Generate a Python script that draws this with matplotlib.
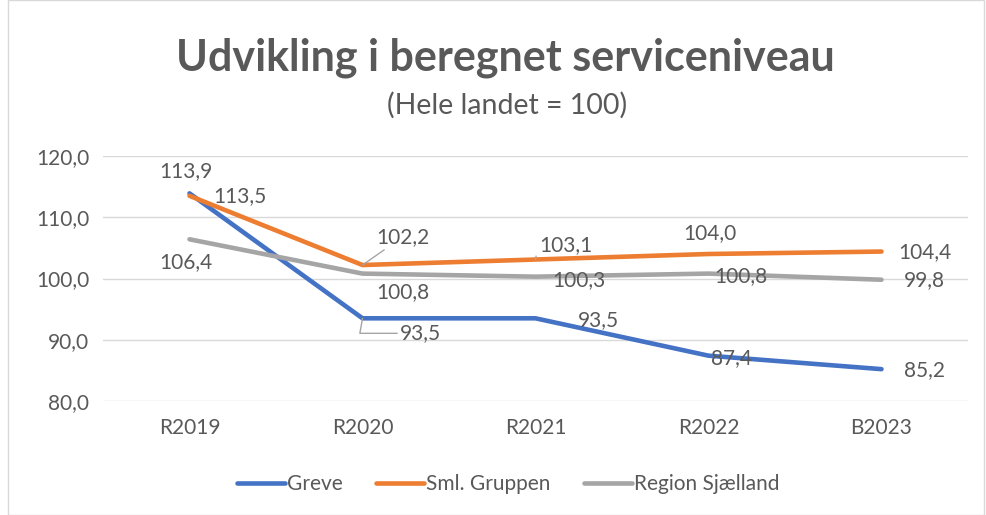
import matplotlib.pyplot as plt
from matplotlib.patches import Rectangle

plt.rcParams['font.family'] = ['Lato', 'DejaVu Sans']

### DATA ###
years = ['R2019', 'R2020', 'R2021', 'R2022', 'B2023']
greve = [113.9, 93.5, 93.5, 87.4, 85.2]
sml = [113.5, 102.2, 103.1, 104.0, 104.4]
region = [106.4, 100.8, 100.3, 100.8, 99.8]
yticks = [80, 90, 100, 110, 120]

### STYLE ###
txt = '#595959'
colors = ['#4472C4', '#ED7D31', '#A5A5A5']
names = ['Greve', 'Sml. Gruppen', 'Region Sjælland']
# label offsets in pixels (dx, dy) and leader line style (None = no line)
angled = 'angle,angleA=0,angleB=80'
offsets = [
    [(-4, 22, None), (58, -15, angled), (63, -2, None), (23, -2, None), (43, -1, None)],
    [(50, 0, None), (40, 28, 'arc3'), (30, 14, angled), (1, 21, None), (43, -1, None)],
    [(-4, -23, None), (40, -18, None), (43, -3, None), (32, -2, None), (43, 0, None)],
]

fig = plt.figure(figsize=(9.86, 5.15), dpi=100)
ax = fig.add_axes([103 / 986, 1 - 401 / 515, 865 / 986, 245 / 515])

x = range(len(years))
series = [greve, sml, region]
for s, c, n in zip(series, colors, names):
    ax.plot(x, s, color=c, lw=3.3, label=n, solid_capstyle='round', zorder=3)

for s, offs in zip(series, offsets):
    for i, (v, (dx, dy, lead)) in enumerate(zip(s, offs)):
        lab = f'{v:.1f}'.replace('.', ',')
        kw = {}
        if lead:
            kw['arrowprops'] = dict(arrowstyle='-', color='#A5A5A5', lw=1,
                                    shrinkA=0, shrinkB=0, connectionstyle=lead)
        ax.annotate(lab, (i, v), xytext=(dx, dy), textcoords='offset pixels',
                    ha='center', va='center', fontsize=15, color=txt, zorder=4, **kw)

ax.set_xlim(-0.5, len(years) - 0.5)
ax.set_ylim(80, 120)
ax.set_yticks(yticks)
ax.set_yticklabels([f'{t:.1f}'.replace('.', ',') for t in yticks])
ax.set_xticks(list(x))
ax.set_xticklabels(years)
ax.grid(axis='y', color='#D9D9D9', lw=1)
ax.set_axisbelow(True)
for sp in ax.spines.values():
    sp.set_visible(False)
ax.tick_params(length=0, labelsize=15, colors=txt)
ax.tick_params(axis='x', pad=12)
ax.tick_params(axis='y', pad=10)

fig.text(505 / 986, 1 - 58 / 515, 'Udvikling i beregnet serviceniveau', ha='center', va='center',
         fontsize=31, fontweight='bold', color=txt)
fig.text(507 / 986, 1 - 105 / 515, '(Hele landet = 100)', ha='center', va='center',
         fontsize=20.5, color=txt)

fig.legend(loc='center', bbox_to_anchor=(508 / 986, 1 - 484 / 515), ncol=3, frameon=False,
           fontsize=15, labelcolor=txt, handlelength=2.3, handletextpad=0.1, columnspacing=1.6)

fig.patches.append(Rectangle((8 / 986, 0), 976 / 986, 1, transform=fig.transFigure,
                             fill=False, edgecolor='#D9D9D9', lw=1))

fig.savefig('out.png', dpi=100)
